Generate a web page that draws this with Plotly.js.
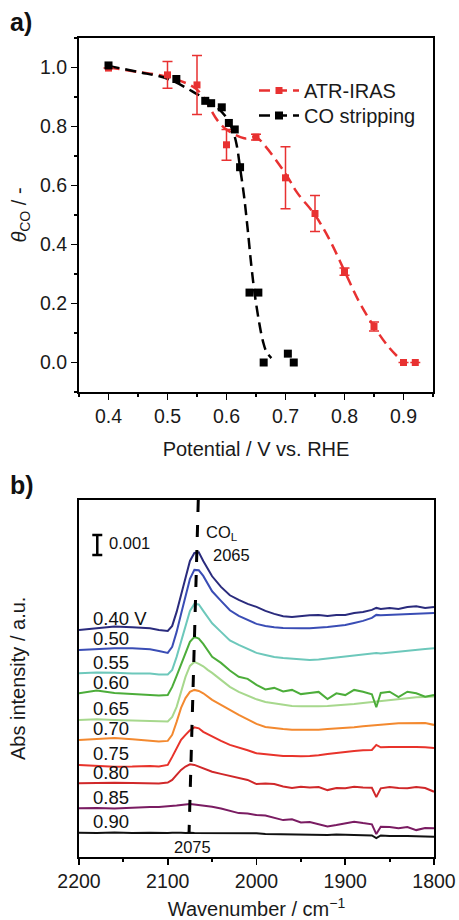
<!DOCTYPE html>
<html>
<head>
<meta charset="utf-8">
<script src="https://cdn.plot.ly/plotly-3.0.1.min.js"></script>
<style>
html,body{margin:0;padding:0;background:#fff;}
#chart{width:459px;height:920px;}
</style>
</head>
<body>
<div id="chart"></div>
<script>
// ---------- Panel a data ----------
const atrPotential = [0.40, 0.50, 0.55, 0.60, 0.65, 0.70, 0.75, 0.80, 0.85, 0.90, 0.92];
const atrCoverage  = [0.998, 0.975, 0.941, 0.738, 0.764, 0.626, 0.505, 0.308, 0.122, 0.0, 0.0];
const atrError     = [0, 0.045, 0.10, 0.052, 0.01, 0.105, 0.061, 0.012, 0.015, 0, 0];
const atrFitPotential = [0.40, 0.45, 0.50, 0.55, 0.585, 0.60, 0.63, 0.65, 0.665, 0.70, 0.72, 0.75, 0.775, 0.80, 0.825, 0.85, 0.875, 0.90];
const atrFitCoverage  = [1.0, 0.985, 0.968, 0.925, 0.82, 0.79, 0.76, 0.764, 0.735, 0.64, 0.575, 0.50, 0.415, 0.31, 0.205, 0.122, 0.052, 0.0];

const stripPotential = [0.40, 0.515, 0.564, 0.574, 0.592, 0.604, 0.614, 0.623, 0.639, 0.654, 0.663, 0.704, 0.714];
const stripCoverage  = [1.007, 0.961, 0.887, 0.879, 0.865, 0.812, 0.79, 0.662, 0.237, 0.237, 0.0, 0.03, 0.0];
const stripFitPotential = [0.40, 0.45, 0.50, 0.55, 0.575, 0.60, 0.61, 0.617, 0.623, 0.63, 0.636, 0.642, 0.648, 0.655, 0.662, 0.668, 0.676];
const stripFitCoverage  = [1.005, 0.985, 0.962, 0.91, 0.88, 0.83, 0.79, 0.74, 0.66, 0.56, 0.45, 0.33, 0.23, 0.14, 0.07, 0.035, 0.015];

// ---------- Panel b data (absorbance in units of 1e-4) ----------
const potentialLabels = ['0.40 V', '0.50', '0.55', '0.60', '0.65', '0.70', '0.75', '0.80', '0.85', '0.90'];
const spectrumColors  = ['#2a2b7d', '#3a4db5', '#6dc8bb', '#4cad3a', '#a7d88d', '#f3892f', '#e8332b', '#d0282a', '#7a1c62', '#111111'];
const offsets = [113.4, 103.4, 91.7, 81.7, 68.4, 58.4, 45.9, 36.7, 24.2, 12.0];
const wavenumbers = [2200, 2180, 2160, 2140, 2120, 2110, 2100, 2095, 2090, 2085,
                     2080, 2075, 2070, 2065, 2060, 2055, 2050, 2040, 2030, 2020,
                     2010, 2000, 1990, 1980, 1970, 1960, 1950, 1940, 1930, 1920,
                     1910, 1900, 1890, 1880, 1870, 1865, 1860, 1850, 1840, 1830,
                     1820, 1810, 1800];
const s040 = [0, 1, 1.7, 1.3, 0.8, 0, -0.5, 2, 9, 17.5,
              26.5, 34.5, 38.5, 38.8, 34.5, 31, 26.8, 21.5, 17.3, 15,
              13, 11.5, 9.5, 8, 6.8, 6.5, 7, 7.3, 7.5, 7,
              7.5, 7.5, 8.5, 9, 10, 11, 10.5, 11, 10.5, 11.5,
              11.8, 11, 11.5];
const s050 = [0, 0.5, 0.8, 0.8, 0.3, -0.5, -1.5, 1.5, 9, 18,
              27.5, 35.5, 40, 39.8, 37, 33.5, 29.3, 24.5, 19.8, 17,
              14.8, 13, 12, 11.3, 11, 10.8, 10.8, 10.8, 11, 11.5,
              12, 12.5, 13.5, 14.5, 16, 17.5, 17.3, 17.5, 17.5, 17.8,
              18, 18.3, 18.4];
const s055 = [0, 0.4, 0.3, -0.1, -0.1, -0.6, -0.6, 1.7, 8.2, 16.2,
              24.2, 31.2, 34.7, 34.4, 31.2, 28.2, 25, 20.7, 16.4, 14.2,
              12.2, 10.2, 9.2, 8.2, 7.7, 7.4, 6.9, 6.7, 6.9, 7.4,
              7.9, 8.3, 8.7, 9.4, 9.9, 10.2, 9.9, 10.4, 10.7, 11.2,
              11.7, 12.2, 12.5];
const s060 = [0, 1.4, 0.2, -0.4, -0.9, -1.1, -0.9, 3.2, 8.7, 14.7,
              20.7, 25.7, 28.2, 27.4, 24.7, 21.7, 18.3, 15.2, 11.4, 8.3,
              7.2, 4.2, 1.9, 2.7, 0.9, 1.7, -0.4, 0.2, 0.7, -2.9,
              0, -0.9, 1.7, 0.8, -0.5, -7.0, 0.2, 0.8, -1.9, 0.8,
              0, -1.7, -0.9];
const s065 = [0, 0.3, 0, -0.3, -0.5, -0.8, -0.8, 1.5, 6.5, 14,
              21.5, 27, 29, 28, 26.8, 25, 23.5, 20, 16.5, 14,
              12, 10.3, 9, 8.3, 7.5, 7, 6.8, 6.7, 6.8, 7,
              7.3, 7.5, 8, 8.5, 9, 9.2, 9.5, 10, 10.5, 11,
              11.3, 11.5, 11.7];
const s070 = [0, 0.5, 0.9, 0.3, -0.3, -0.8, -0.5, 2.5, 9, 16,
              20.9, 24, 25, 24.5, 23.3, 21.8, 20, 17.5, 14.8, 12.5,
              10.3, 8, 6.5, 5.8, 5.4, 5.1, 5, 5, 5.1, 5.4,
              5.6, 5.9, 6.3, 6.8, 7.3, 7.5, 7.8, 8, 8.3, 8.4,
              8.7, 8.5, 7.5];
const s075 = [0, -0.5, -0.9, -0.8, -0.5, -0.8, 0, 4, 8.5, 12.5,
              15, 17.3, 18.8, 18.3, 16.5, 15.3, 14.2, 12, 10, 8.8,
              7.3, 5.8, 5.3, 4.8, 4.5, 4.5, 4.3, 4.5, 4.8, 5.5,
              6, 6.7, 7, 7.3, 7.5, 10, 8.8, 8.9, 9, 9.2,
              9, 8.8, 8.4];
const s080 = [0, 0.2, 0.3, 0.2, -0.1, -0.1, 0.4, 1.7, 4.2, 6.7,
              8.4, 9.5, 9.2, 8.3, 7.4, 6.7, 5.8, 4.7, 3.7, 2.7,
              1.7, -0.4, -0.1, -0.4, -1.6, -2.4, -1.7, -2.1, -1.9, -3.4,
              -2.4, -2.5, -1.7, -2.1, -2.2, -6.9, -2.5, -1.9, -2.4, -2.5,
              -1.9, -2.4, -4.2];
const s085 = [0, 0.2, -0.1, 0.4, 0.7, 0.7, 0.9, 1.2, 1.4, 1.7,
              1.9, 2.2, 1.9, 1.7, 1.2, 1.2, 0.8, -0.1, -1.4, -2.4,
              -2.6, -3.4, -3.6, -4.6, -5.9, -5.5, -7.1, -6.9, -7.9, -9.1,
              -8.4, -7.5, -6.7, -7.4, -8.0, -12.9, -9.2, -9.4, -10, -9.4,
              -10.9, -9.9, -10];
const s090 = [0, -0.2, 0.1, -0.2, 0, -0.2, -0.2, 0, 0.1, 0,
              -0.2, 0, -0.2, -0.2, -0.2, -0.3, -0.2, -0.3, -0.4, -0.3,
              -0.4, -0.3, -0.6, -0.7, -0.7, -0.8, -0.7, -0.9, -0.9, -1.1,
              -0.9, -1.2, -1.2, -1.3, -1.4, -2.7, -1.4, -1.7, -1.6, -1.7,
              -1.8, -1.9, -2];
const spectra = [s040, s050, s055, s060, s065, s070, s075, s080, s085, s090];

// peak position guide (cm-1) and scale bar
const peakGuideWavenumber = [2065.6, 2076];
const peakGuideLevel = [178.35, 12];
const scaleBarValue = 10; // 0.001 a.u. in units of 1e-4

// ---------- build ----------
const FONT = '"Liberation Sans", Arial, sans-serif';
const RED = '#e83131';
const traces = [];

// panel a
traces.push({x: atrFitPotential, y: atrFitCoverage, mode: 'lines', line: {color: RED, width: 2.5, dash: '11px,6px', shape: 'spline'}, showlegend: false, xaxis: 'x', yaxis: 'y', hoverinfo: 'skip'});
traces.push({x: stripFitPotential, y: stripFitCoverage, mode: 'lines', line: {color: '#000', width: 2.5, dash: '11px,6px', shape: 'spline'}, showlegend: false, xaxis: 'x', yaxis: 'y', hoverinfo: 'skip'});
traces.push({x: atrPotential, y: atrCoverage, mode: 'markers', marker: {symbol: 'square', size: 7, color: RED},
  error_y: {type: 'data', array: atrError, visible: true, color: RED, thickness: 1.5, width: 5},
  showlegend: false, xaxis: 'x', yaxis: 'y'});
traces.push({x: stripPotential, y: stripCoverage, mode: 'markers', marker: {symbol: 'square', size: 8, color: '#000'}, showlegend: false, xaxis: 'x', yaxis: 'y'});
// legend entries
traces.push({x: [null], y: [null], name: 'ATR-IRAS', legend: 'legend', mode: 'lines+markers', line: {color: RED, width: 2.5, dash: '11px,6px'}, marker: {symbol: 'square', size: 7, color: RED}, xaxis: 'x', yaxis: 'y'});
traces.push({x: [null], y: [null], name: 'CO stripping', legend: 'legend2', mode: 'lines+markers', line: {color: '#000', width: 2.5, dash: '11px,6px'}, marker: {symbol: 'square', size: 8, color: '#000'}, xaxis: 'x', yaxis: 'y'});

// panel b
for (let i = spectra.length - 1; i >= 0; i--) {
  traces.push({
    x: wavenumbers,
    y: spectra[i].map(v => v + offsets[i]),
    mode: 'lines', line: {color: spectrumColors[i], width: 2},
    name: potentialLabels[i], showlegend: false, xaxis: 'x2', yaxis: 'y2'
  });
}
traces.push({x: peakGuideWavenumber, y: peakGuideLevel, mode: 'lines', line: {color: '#000', width: 3, dash: '12px,13px'}, showlegend: false, xaxis: 'x2', yaxis: 'y2', hoverinfo: 'skip'});
traces.push({x: [2179.4], y: [155.85], mode: 'markers', marker: {size: 1, color: 'rgba(0,0,0,0)'},
  error_y: {type: 'constant', value: scaleBarValue / 2, visible: true, color: '#000', thickness: 2.5, width: 5},
  showlegend: false, xaxis: 'x2', yaxis: 'y2', hoverinfo: 'skip'});

const annotations = [
  {text: '<b>a)</b>', xref: 'paper', yref: 'paper', x: 8 / 459, y: 1 - 22 / 920, xanchor: 'left', yanchor: 'middle', showarrow: false, font: {family: FONT, size: 25, color: '#111'}},
  {text: '<b>b)</b>', xref: 'paper', yref: 'paper', x: 8 / 459, y: 1 - 485 / 920, xanchor: 'left', yanchor: 'middle', showarrow: false, font: {family: FONT, size: 25, color: '#111'}},
  {text: '0.001', xref: 'x2', yref: 'y2', x: 2168, y: 156.8, xanchor: 'left', yanchor: 'middle', showarrow: false, font: {family: FONT, size: 16.5, color: '#111'}},
  {text: 'CO<sub>L</sub>', xref: 'x2', yref: 'y2', x: 2059.2, y: 161.8, xanchor: 'left', yanchor: 'middle', showarrow: false, font: {family: FONT, size: 16.5, color: '#111'}},
  {text: '2065', xref: 'x2', yref: 'y2', x: 2051.6, y: 150.8, xanchor: 'left', yanchor: 'middle', showarrow: false, font: {family: FONT, size: 16.5, color: '#111'}},
  {text: '2075', xref: 'x2', yref: 'y2', x: 2072.3, y: 5.0, xanchor: 'center', yanchor: 'middle', showarrow: false, font: {family: FONT, size: 16.5, color: '#111'}}
];
potentialLabels.forEach((t, i) => {
  annotations.push({text: t, xref: 'x2', yref: 'y2', x: 2187, y: offsets[i] + 5.5, xanchor: 'left', yanchor: 'middle', showarrow: false, font: {family: FONT, size: 18.5, color: '#111'}});
});

const axisCommon = {showline: true, mirror: true, linewidth: 2, linecolor: '#000', ticks: 'outside', ticklen: 6, tickwidth: 1.8, tickcolor: '#000',
  showgrid: false, zeroline: false, tickfont: {family: FONT, size: 19.5, color: '#1a1a1a'}, automargin: false};

const legendCommon = {xanchor: 'left', yanchor: 'top', bgcolor: 'rgba(0,0,0,0)', font: {family: FONT, size: 20, color: '#1a1a1a'}, itemwidth: 40};

const layout = {
  width: 459, height: 920,
  margin: {l: 0, r: 0, t: 0, b: 0},
  paper_bgcolor: '#fff', plot_bgcolor: '#fff',
  font: {family: FONT, color: '#1a1a1a'},
  showlegend: true,
  legend: Object.assign({}, legendCommon, {x: 254 / 459, y: 1 - 71 / 920}),
  legend2: Object.assign({}, legendCommon, {x: 254 / 459, y: 1 - 96 / 920}),
  xaxis: Object.assign({}, axisCommon, {domain: [79 / 459, 433 / 459], range: [0.35, 0.95], dtick: 0.1, tick0: 0.4, tickformat: '.1f',
    minor: {dtick: 0.05, tick0: 0.35, ticklen: 3, tickcolor: '#000', ticks: 'outside'},
    title: {text: 'Potential / V vs. RHE', font: {family: FONT, size: 20, color: '#1a1a1a'}, standoff: 16}, anchor: 'y'}),
  yaxis: Object.assign({}, axisCommon, {domain: [1 - 392 / 920, 1 - 38 / 920], range: [-0.1, 1.1], dtick: 0.2, tick0: 0, tickformat: '.1f',
    minor: {dtick: 0.1, tick0: 0, ticklen: 3, tickcolor: '#000', ticks: 'outside'},
    title: {text: '<i>θ</i><sub>CO</sub> / -', font: {family: FONT, size: 20, color: '#1a1a1a'}, standoff: 8}, anchor: 'x'}),
  xaxis2: Object.assign({}, axisCommon, {domain: [79 / 459, 434 / 459], range: [2200, 1800], dtick: 100, tick0: 1800,
    minor: {dtick: 50, tick0: 1800, ticklen: 3, tickcolor: '#000', ticks: 'outside'},
    title: {text: 'Wavenumber / cm<sup>−1</sup>', font: {family: FONT, size: 20, color: '#1a1a1a'}, standoff: 14}, anchor: 'y2'}),
  yaxis2: Object.assign({}, axisCommon, {domain: [1 - 856.7 / 920, 1 - 500 / 920], range: [0, 178.35], ticks: '', showticklabels: false,
    title: {text: 'Abs intensity / a.u.', font: {family: FONT, size: 20, color: '#1a1a1a'}, standoff: 46}, anchor: 'x2'}),
  annotations: annotations
};

Plotly.newPlot('chart', traces, layout, {staticPlot: true, displayModeBar: false});
</script>
</body>
</html>
